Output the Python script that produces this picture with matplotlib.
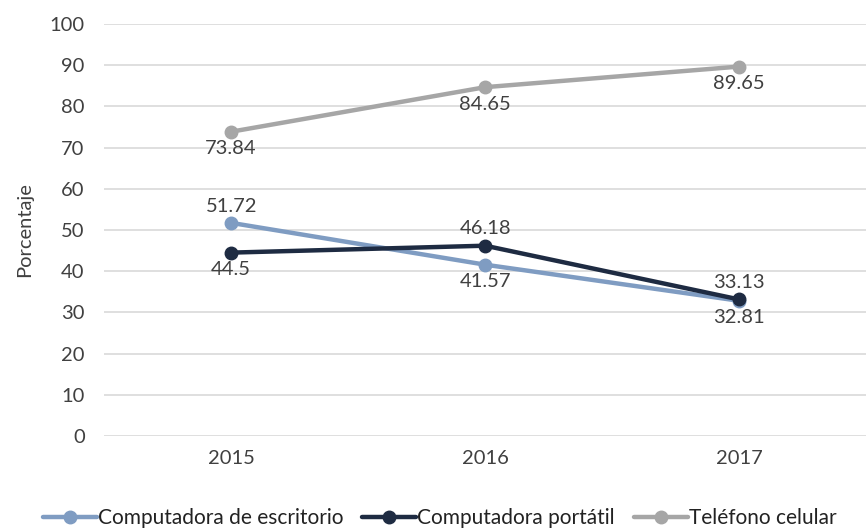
import matplotlib.pyplot as plt
import matplotlib as mpl

mpl.rcParams["font.family"] = ["Lato", "DejaVu Sans"]

years = ["2015", "2016", "2017"]
escritorio = [51.72, 41.57, 32.81]
portatil = [44.5, 46.18, 33.13]
celular = [73.84, 84.65, 89.65]

names = ["Computadora de escritorio", "Computadora portátil", "Teléfono celular"]
colors = ["#7F9CC2", "#1E2B42", "#A6A6A6"]
# label position per point: +1 above, -1 below
label_pos = [
    [1, -1, -1],
    [-1, 1, 1],
    [-1, -1, -1],
]

text_color = "#404040"
fs = 14.5

fig = plt.figure(figsize=(8.68, 5.29), dpi=100)
ax = fig.add_axes([0.12, 0.1758, 0.878, 0.779])

x = list(range(len(years)))
for vals, name, c, pos in zip([escritorio, portatil, celular], names, colors, label_pos):
    ax.plot(x, vals, color=c, linewidth=3.2, marker="o", markersize=9,
            label=name, solid_capstyle="round", zorder=3)
    for xi, v, p in zip(x, vals, pos):
        txt = f"{v:g}"
        if p > 0:
            ax.annotate(txt, (xi, v), xytext=(0, 6), textcoords="offset points",
                        ha="center", va="bottom", fontsize=fs, color=text_color)
        else:
            ax.annotate(txt, (xi, v), xytext=(0, -6), textcoords="offset points",
                        ha="center", va="top", fontsize=fs, color=text_color)

ax.set_xlim(-0.5, 2.5)
ax.set_ylim(0, 100)
ax.set_yticks(range(0, 101, 10))
ax.set_xticks(x)
ax.set_xticklabels(years)
ax.grid(True, axis="y", color="#D9D9D9", linewidth=1.2, zorder=0)
ax.tick_params(length=0, labelsize=fs, colors=text_color, pad=14)
ax.tick_params(axis="x", pad=10)
for s in ["top", "right", "left", "bottom"]:
    ax.spines[s].set_visible(False)
ax.set_ylabel("Porcentaje", fontsize=fs, color=text_color, labelpad=12)

ax.legend(loc="upper center", bbox_to_anchor=(0.44, -0.13), ncol=3, frameon=False,
          fontsize=15, handlelength=2.6, columnspacing=0.9, handletextpad=0.05,
          labelcolor="#222222")

fig.savefig("out.png", dpi=100)
